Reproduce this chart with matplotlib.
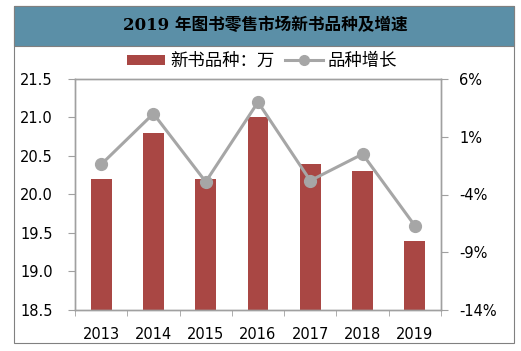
import matplotlib
matplotlib.use("Agg")
import matplotlib.pyplot as plt
from matplotlib.patches import Rectangle, Patch
from matplotlib.lines import Line2D
import numpy as np

plt.rcParams['font.family'] = ['DejaVu Sans', 'Noto Sans CJK SC']

years = ['2013', '2014', '2015', '2016', '2017', '2018', '2019']
new_titles = [20.2, 20.8, 20.2, 21.0, 20.4, 20.3, 19.4]   # 万
growth_pct = [-1.4, 3.0, -2.9, 4.0, -2.8, -0.5, -6.7]     # %

title = '2019 年图书零售市场新书品种及增速'
bar_label = '新书品种：万'
line_label = '品种增长'

W, H = 521, 351
fig = plt.figure(figsize=(W / 100, H / 100), dpi=100)

def fx(px):
    return px / W

def fy(py):
    return 1 - py / H

# outer frame and title band
fig.patches.append(Rectangle((fx(14), fy(343)), fx(500), 337 / H, transform=fig.transFigure,
                             facecolor='white', edgecolor='#808080', lw=0.8, zorder=-2))
fig.patches.append(Rectangle((fx(14), fy(46)), fx(500), 40 / H, transform=fig.transFigure,
                             facecolor='#5B8FA7', edgecolor='#808080', lw=0.8, zorder=-1))
fig.text(fx(265), fy(26), title, ha='center', va='center', fontsize=12, fontweight='bold',
         family=['DejaVu Serif', 'Noto Sans CJK SC'], color='black')

ax = fig.add_axes([fx(75), fy(310), fx(366), 231 / H])
ax.patch.set_alpha(0)
x = np.arange(len(years))
bar_color = '#A94744'
ax.bar(x, new_titles, width=0.4, color=bar_color, zorder=2)
ax.set_ylim(18.5, 21.5)
ax.set_yticks(np.arange(18.5, 21.51, 0.5))
ax.set_yticklabels([f'{v:.1f}' for v in np.arange(18.5, 21.51, 0.5)])
ax.set_xlim(-0.5, len(years) - 0.5)
ax.set_xticks(x)
ax.set_xticklabels(years)
ax.set_xticks(np.arange(-0.5, len(years), 1.0), minor=True)
ax.tick_params(axis='x', which='major', length=0, pad=12, labelsize=10.5)
ax.tick_params(axis='x', which='minor', length=4, color='#A0A0A0', direction='out')
ax.tick_params(axis='y', length=5, color='#A0A0A0', labelsize=10.5, pad=11)

spine_color = '#A0A0A0'
for s in ax.spines.values():
    s.set_color(spine_color)
    s.set_linewidth(1.0)

ax2 = ax.twinx()
line_color = '#A6A6A6'
ax2.plot(x, growth_pct, color=line_color, lw=2.2, marker='o', markersize=8.5, zorder=3)
ax2.set_ylim(-14, 6)
ax2.set_yticks(np.arange(-14, 6.1, 5))
ax2.set_yticklabels([f'{int(v)}%' for v in np.arange(-14, 6.1, 5)])
ax2.tick_params(axis='y', length=5, color='#A0A0A0', labelsize=10.5, pad=8)
for s in ax2.spines.values():
    s.set_color(spine_color)
    s.set_linewidth(1.0)

handles = [Patch(facecolor=bar_color, edgecolor='none'),
           Line2D([0], [0], color=line_color, lw=2.2, marker='o', markersize=7)]
fig.legend(handles, [bar_label, line_label], loc='center', bbox_to_anchor=(fx(262), fy(61)),
           ncol=2, frameon=False, handlelength=2.2, handleheight=0.5,
           columnspacing=0.6, handletextpad=0.3,
           prop={'family': ['Noto Sans CJK SC'], 'size': 12.5})

fig.savefig('out.png', dpi=100)
